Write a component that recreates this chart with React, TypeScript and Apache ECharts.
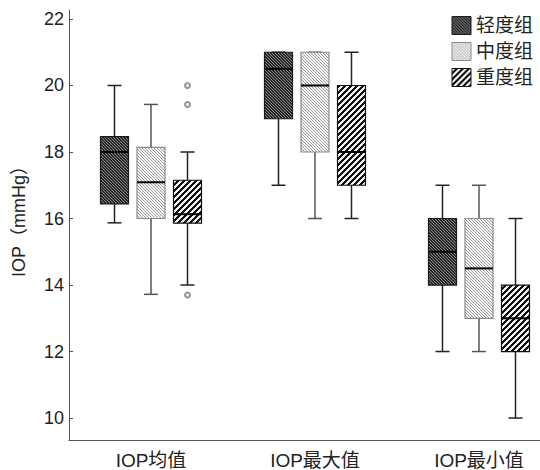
import React, { useEffect, useRef } from 'react';
import * as echarts from 'echarts';

const categories = ['IOP均值', 'IOP最大值', 'IOP最小值'];
const groupNames = ['轻度组', '中度组', '重度组'];
// each row: [min, Q1, median, Q3, max]
const mildBoxes = [
  [15.87, 16.44, 18.0, 18.46, 20.0],
  [17.0, 19.0, 20.5, 21.0, 21.0],
  [12.0, 14.0, 15.0, 16.0, 17.0],
];
const moderateBoxes = [
  [13.72, 16.0, 17.09, 18.14, 19.43],
  [16.0, 18.0, 20.0, 21.0, 21.0],
  [12.0, 13.0, 14.5, 16.0, 17.0],
];
const severeBoxes = [
  [14.0, 15.86, 16.13, 17.15, 18.0],
  [16.0, 17.0, 18.0, 20.0, 21.0],
  [10.0, 12.0, 13.0, 14.0, 16.0],
];
// [category index, value]
const severeOutliers = [
  [0, 20.0],
  [0, 19.43],
  [0, 13.7],
];
const yTicks = [10, 12, 14, 16, 18, 20, 22];

const FONT = "'Liberation Sans', 'Noto Sans CJK SC', sans-serif";

function makePattern(p: number, w: number, base: string, stripe: string, dir: 'back' | 'fwd') {
  const c = document.createElement('canvas');
  c.width = p;
  c.height = p;
  const ctx = c.getContext('2d')!;
  ctx.fillStyle = base;
  ctx.fillRect(0, 0, p, p);
  ctx.fillStyle = stripe;
  for (let y = 0; y < p; y++) {
    for (let x = 0; x < p; x++) {
      const k = dir === 'back' ? (((x - y) % p) + p) % p : (x + y) % p;
      if (k < w) ctx.fillRect(x, y, 1, 1);
    }
  }
  return { image: c.toDataURL(), repeat: 'repeat', imageWidth: p, imageHeight: p } as any;
}

export default function App() {
  const ref = useRef<HTMLDivElement>(null);
  useEffect(() => {
    if (!ref.current) return;
    const chart = echarts.init(ref.current, undefined, { renderer: 'svg' });
    const patterns = [
      makePattern(3, 1, '#262626', '#8a8a8a', 'back'),
      makePattern(3, 1, '#f6f6f6', '#9c9c9c', 'back'),
      makePattern(6, 3, '#111111', '#f2f2f2', 'fwd'),
    ];
    const boxStrokes = ['#1a1a1a', '#8a8a8a', '#111111'];
    const whiskerStrokes = ['#222222', '#555555', '#222222'];
    const offsets = [-36.5, 0, 36.5];
    const boxSets = [mildBoxes, moderateBoxes, severeBoxes];

    const makeRender = (idx: number) => (params: any, api: any) => {
      const xi = api.value(0);
      const pt = (k: number) => api.coord([xi, api.value(k)]);
      const pLow = pt(1), pQ1 = pt(2), pMed = pt(3), pQ3 = pt(4), pHigh = pt(5);
      const cx = pLow[0] + offsets[idx];
      const hw = 14;
      const cap = 7;
      const ws = { stroke: whiskerStrokes[idx], lineWidth: 1.5 };
      const children: any[] = [
        { type: 'line', shape: { x1: cx, y1: pHigh[1], x2: cx, y2: pQ3[1] }, style: ws },
        { type: 'line', shape: { x1: cx - cap, y1: pHigh[1], x2: cx + cap, y2: pHigh[1] }, style: ws },
        { type: 'line', shape: { x1: cx, y1: pQ1[1], x2: cx, y2: pLow[1] }, style: ws },
        { type: 'line', shape: { x1: cx - cap, y1: pLow[1], x2: cx + cap, y2: pLow[1] }, style: ws },
        {
          type: 'rect',
          shape: { x: cx - hw, y: pQ3[1], width: hw * 2, height: pQ1[1] - pQ3[1] },
          style: { fill: patterns[idx], stroke: boxStrokes[idx], lineWidth: 1.2 },
        },
        {
          type: 'line',
          shape: { x1: cx - hw, y1: pMed[1], x2: cx + hw, y2: pMed[1] },
          style: { stroke: '#000', lineWidth: 2 },
        },
      ];
      return { type: 'group', children };
    };

    const series: any[] = boxSets.map((set, idx) => ({
      type: 'custom',
      name: groupNames[idx],
      renderItem: makeRender(idx),
      encode: { x: 0, y: [1, 2, 3, 4, 5] },
      itemStyle: { color: patterns[idx], borderColor: boxStrokes[idx] },
      data: set.map((b, i) => [i, ...b]),
    }));
    series.push({
      type: 'scatter',
      name: 'outliers',
      data: severeOutliers,
      symbol: 'emptyCircle',
      symbolSize: 5,
      symbolOffset: [36.5, 0],
      itemStyle: { color: '#7a7a7a', borderWidth: 1 },
      z: 5,
    });

    chart.setOption({
      animation: false,
      grid: { left: 69, width: 492, top: 10, height: 430, outerBoundsMode: 'none', containLabel: false },
      legend: {
        orient: 'vertical',
        right: 2,
        top: 11,
        itemWidth: 19,
        itemHeight: 18,
        itemGap: 7,
        icon: 'rect',
        selectedMode: false,
        textStyle: { fontSize: 19, color: '#222', fontFamily: FONT },
        data: groupNames.map((n, i) => ({
          name: n,
          itemStyle: { color: patterns[i], borderColor: boxStrokes[i], borderWidth: 1 },
        })),
      },
      xAxis: {
        type: 'category',
        data: categories,
        axisLine: { onZero: false, lineStyle: { color: '#555', width: 1 } },
        axisTick: { alignWithLabel: true, inside: false, length: 5, lineStyle: { color: '#555' } },
        axisLabel: { fontSize: 19, color: '#222', margin: 11, fontFamily: FONT },
        splitLine: { show: false },
      },
      yAxis: {
        type: 'value',
        min: 9.34,
        max: 22.27,
        name: 'IOP（mmHg）',
        nameLocation: 'middle',
        nameGap: 41,
        nameTextStyle: { fontSize: 18, color: '#222', fontFamily: FONT, padding: [0, 0, 0, 16] },
        axisLine: { show: true, lineStyle: { color: '#555', width: 1 } },
        axisTick: { show: true, inside: true, length: 4, customValues: yTicks, lineStyle: { color: '#555' } },
        axisLabel: { fontSize: 18, color: '#222', margin: 5, fontFamily: FONT, customValues: yTicks },
        splitLine: { show: false },
      },
      series,
    });
    return () => chart.dispose();
  }, []);
  return (
    <div
      ref={ref}
      style={{ position: 'absolute', left: 0, top: 0, width: 540, height: 470 }}
    />
  );
}
